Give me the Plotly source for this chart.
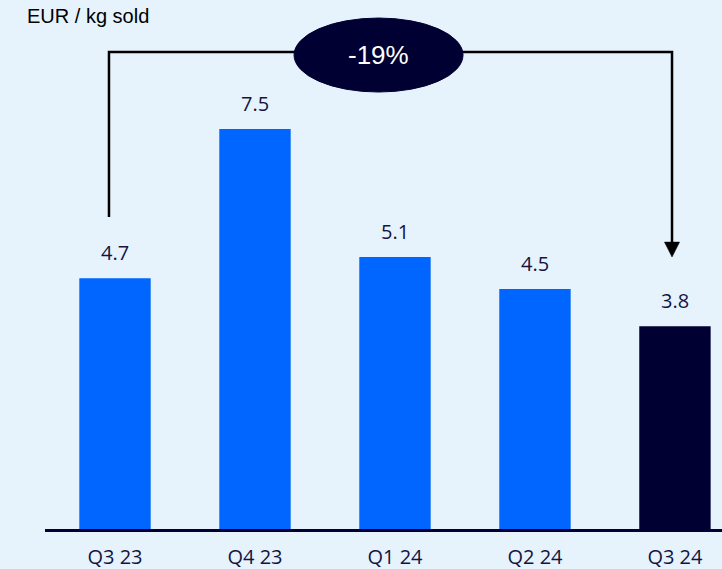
import plotly.graph_objects as go

# Quarterly price per kg sold
quarters = ["Q3 23", "Q4 23", "Q1 24", "Q2 24", "Q3 24"]
eur_per_kg = [4.7, 7.5, 5.1, 4.5, 3.8]
bar_colors = ["#0066ff", "#0066ff", "#0066ff", "#0066ff", "#000033"]
change_label = "-19%"
unit_label = "EUR / kg sold"

NAVY = "#000033"
TEXT = "#14143f"
BG = "#e6f3fd"

x_idx = list(range(len(quarters)))

fig = go.Figure()
fig.add_trace(go.Bar(
    x=x_idx,
    y=eur_per_kg,
    width=0.51,
    marker=dict(color=bar_colors, line=dict(width=0)),
    hoverinfo="skip",
))

# value labels above each bar
for i, v in zip(x_idx, eur_per_kg):
    fig.add_annotation(
        x=i, y=v, xref="x", yref="y", text=f"{v:.1f}",
        showarrow=False, yanchor="bottom", yshift=10,
        font=dict(family="Open Sans", size=20, color=TEXT),
    )

# bracket from first to last quarter
x_left, x_right = -0.043, 3.979
y_top, y_left_end, y_tip, y_head = 8.944, 5.85, 5.10, 5.38
fig.add_shape(
    type="path", xref="x", yref="y",
    path=f"M {x_left},{y_left_end} L {x_left},{y_top} L {x_right},{y_top} L {x_right},{y_head}",
    line=dict(color="black", width=2.5),
)
half_w = 0.054
fig.add_shape(
    type="path", xref="x", yref="y",
    path=f"M {x_right - half_w},{y_head} L {x_right + half_w},{y_head} L {x_right},{y_tip} Z",
    fillcolor="black", line=dict(color="black", width=0.5),
)

# change bubble
fig.add_shape(
    type="circle", xref="x", yref="y",
    x0=1.279, x1=2.486, y0=8.194, y1=9.582,
    fillcolor=NAVY, line=dict(color=NAVY, width=1),
)
fig.add_annotation(
    x=1.882, y=8.888, xref="x", yref="y", text=change_label, showarrow=False,
    font=dict(family="Liberation Sans", size=26, color="white"),
)

# unit caption, left of the plot area
fig.add_annotation(
    x=-20 / 677, y=1, xref="paper", yref="paper", text=unit_label, showarrow=False,
    xanchor="left", yanchor="top", yshift=-3,
    font=dict(family="Liberation Sans", size=20, color="black"),
)

fig.update_layout(
    width=722, height=569,
    margin=dict(l=45, r=0, t=0, b=40),
    paper_bgcolor=BG, plot_bgcolor=BG,
    showlegend=False,
    xaxis=dict(
        range=[-0.5, 4.336], tickmode="array", tickvals=x_idx, ticktext=quarters,
        showgrid=False, zeroline=False, showline=True, linecolor=NAVY, linewidth=2.5,
        ticks="", tickfont=dict(family="Open Sans", size=20, color=TEXT),
        ticklabelstandoff=8,
    ),
    yaxis=dict(range=[0, 9.92], visible=False, showgrid=False, zeroline=False),
)

fig.write_html("out.html")
